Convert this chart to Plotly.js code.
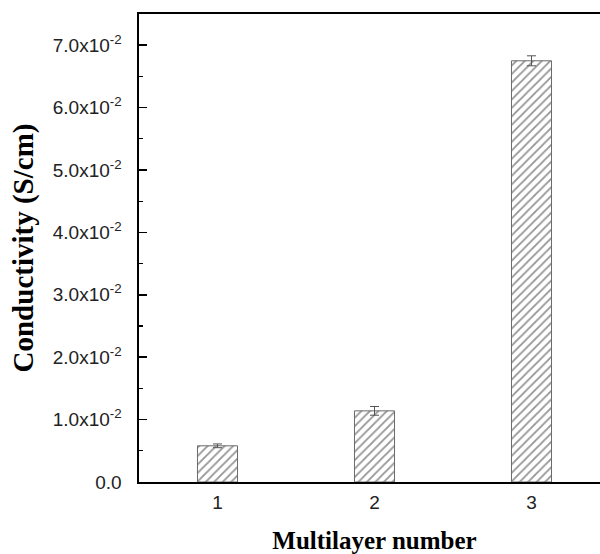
<!DOCTYPE html>
<html>
<head>
<meta charset="utf-8">
<script src="https://cdn.plot.ly/plotly-3.0.1.min.js"></script>
<style>
html,body{margin:0;padding:0;overflow:hidden;background:#fff;width:600px;height:554px;}
#chart{width:640px;height:554px;}
</style>
</head>
<body>
<div id="chart"></div>
<script>
const categories = [1, 2, 3];
const conductivity = [0.0058, 0.0114, 0.0675];
const errors = [0.0003, 0.0007, 0.0008];
const yTickVals = [0, 0.01, 0.02, 0.03, 0.04, 0.05, 0.06, 0.07];
const yTickText = ['0.0', '1.0x10<sup>-2</sup>', '2.0x10<sup>-2</sup>', '3.0x10<sup>-2</sup>',
  '4.0x10<sup>-2</sup>', '5.0x10<sup>-2</sup>', '6.0x10<sup>-2</sup>', '7.0x10<sup>-2</sup>'];

const trace = {
  type: 'bar',
  x: categories,
  y: conductivity,
  width: 0.255,
  marker: {
    color: '#ffffff',
    line: {color: '#6a6a6a', width: 1},
    pattern: {shape: '/', fgcolor: '#2a2a2a', bgcolor: '#ffffff', size: 6, solidity: 0.3, fillmode: 'overlay'}
  },
  error_y: {type: 'data', array: errors, visible: true, color: '#555555', thickness: 1, width: 4.5}
};

const layout = {
  width: 640, height: 554,
  margin: {l: 139.3, r: 29.5, t: 14, b: 72},
  paper_bgcolor: '#ffffff', plot_bgcolor: '#ffffff',
  showlegend: false,
  xaxis: {
    range: [0.5, 3.5],
    tickvals: categories,
    ticktext: ['1', '2', '3'],
    ticks: '',
    ticklabelstandoff: 3,
    showgrid: false, zeroline: false,
    showline: true, linecolor: '#000', linewidth: 1.6, mirror: true,
    tickfont: {family: 'Liberation Sans, Arial, sans-serif', size: 19, color: '#222'},
    title: {text: 'Multilayer number', font: {family: 'Liberation Serif, Times New Roman, serif', size: 25, color: '#000', weight: 'bold'}, standoff: 21}
  },
  yaxis: {
    range: [0, 0.075],
    tickmode: 'array',
    tickvals: yTickVals,
    ticktext: yTickText,
    ticks: 'inside', ticklen: 8, tickwidth: 1.5, tickcolor: '#000',
    minor: {tickmode: 'linear', tick0: 0, dtick: 0.005, ticks: 'inside', ticklen: 4, tickwidth: 1.2, tickcolor: '#000', showgrid: false},
    ticklabelstandoff: 12,
    showgrid: false, zeroline: false,
    showline: true, linecolor: '#000', linewidth: 1.6, mirror: true,
    tickfont: {family: 'Liberation Sans, Arial, sans-serif', size: 19, color: '#222'},
    title: {text: 'Conductivity (S/cm)', font: {family: 'Liberation Serif, Times New Roman, serif', size: 29, color: '#000', weight: 'bold'}, standoff: 10}
  }
};

Plotly.newPlot('chart', [trace], layout, {displayModeBar: false, staticPlot: true});
</script>
</body>
</html>
